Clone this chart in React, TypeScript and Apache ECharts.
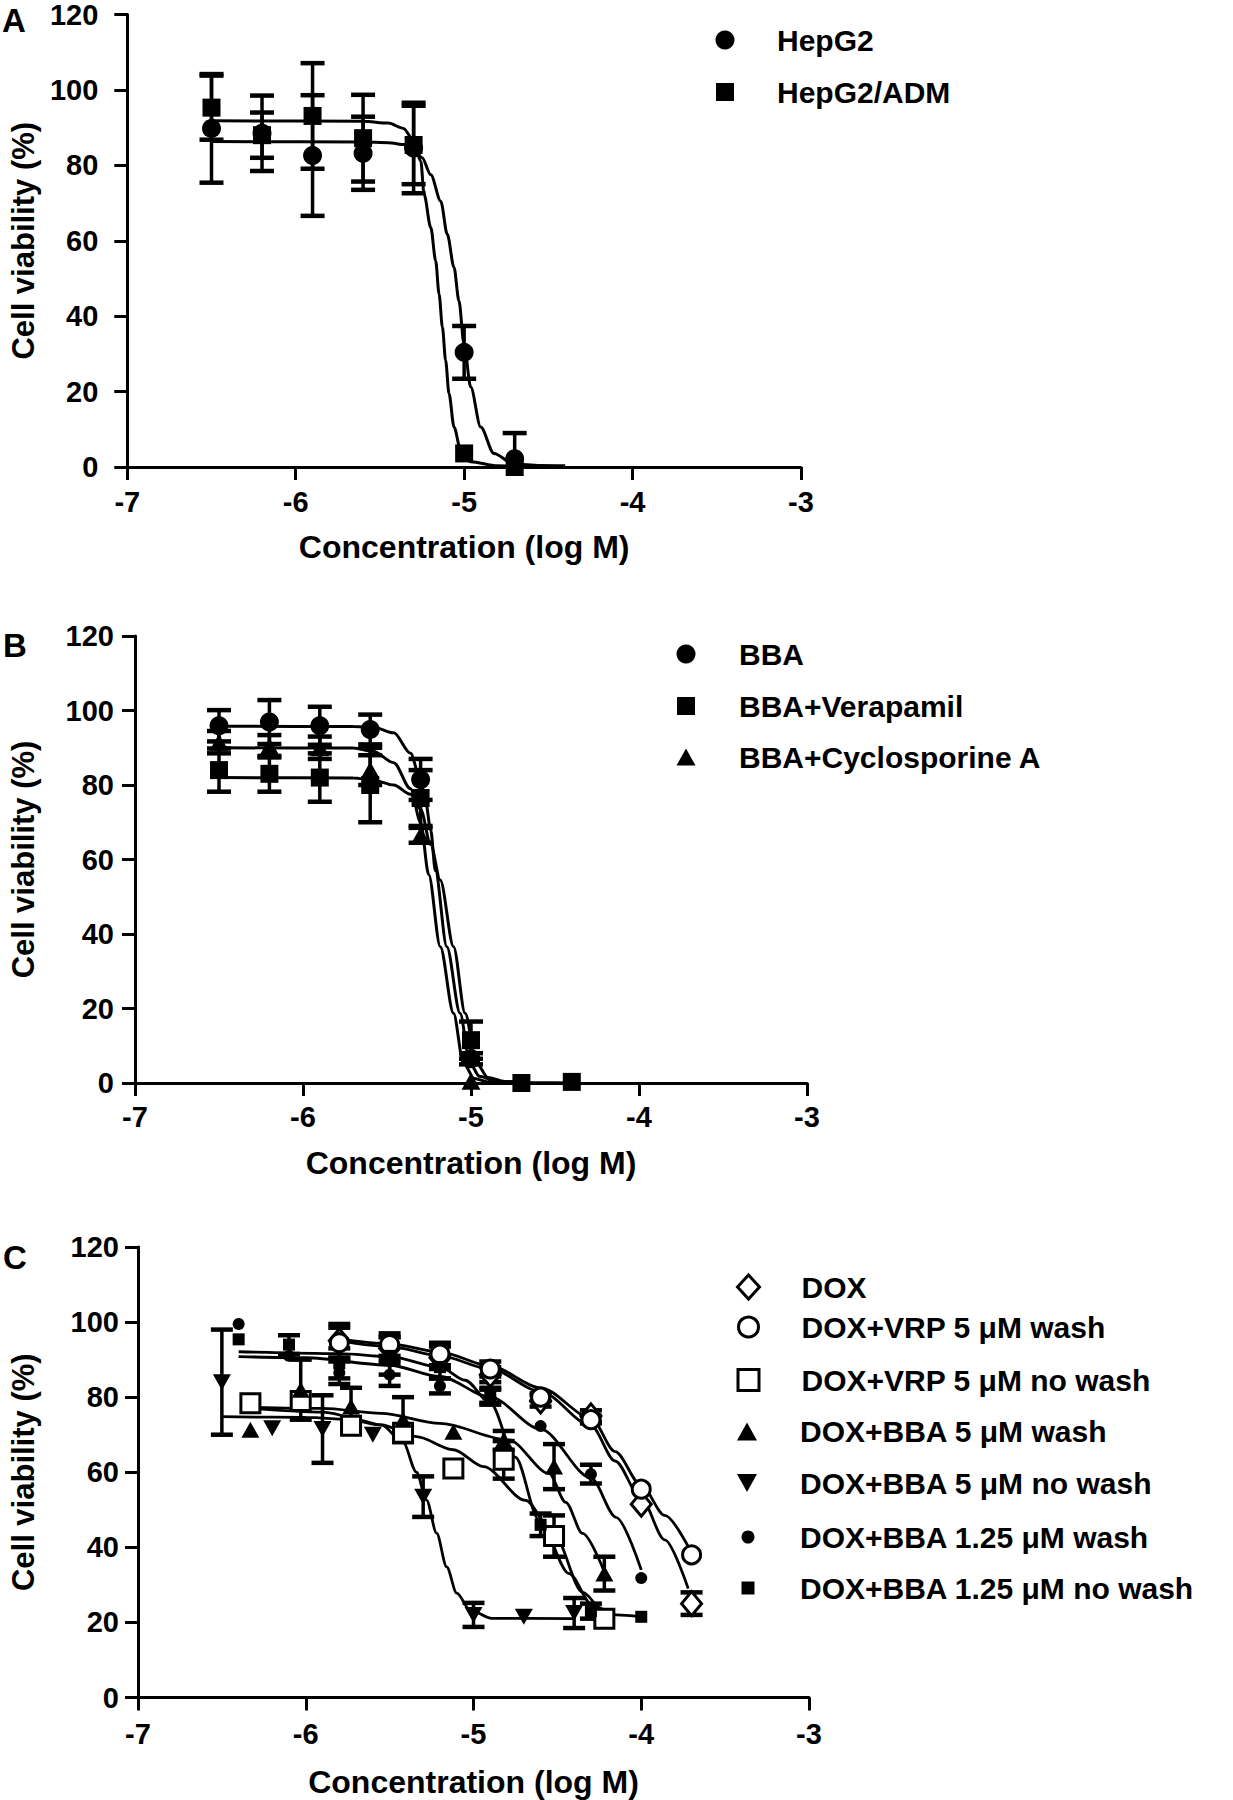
import React, { useEffect, useRef } from "react";
import * as echarts from "echarts";

const FONT = '"Liberation Sans", Arial, Helvetica, sans-serif';

// ---------------- Panel A ----------------
const A_X = [-6.5, -6.2, -5.9, -5.6, -5.3, -5.0, -4.7];
const A_HEPG2 = [89.8, 88.5, 82.6, 83.2, 84.6, 30.4, 2.2];
const A_HEPG2_SD = [14.4, 10, 16, 9.7, 12, 7, 6.8];
const A_ADM = [95.3, 88, 93.1, 87.2, 85.4, 3.6, 0];
const A_ADM_SD = [8.5, 6, 14, 11.5, 10.4, 0, 0];
const A_HEPG2_FIT = [
  [-6.5, 86.3], [-5.6, 86.2], [-5.45, 86], [-5.35, 85.5], [-5.3, 84.5], [-5.25, 82],
  [-5.198, 77.5], [-5.139, 70.5], [-5.1, 61.7], [-5.06, 52.9], [-5.031, 44.1], [-5.001, 32.7],
  [-4.961, 21.2], [-4.902, 10.6], [-4.823, 3.6], [-4.705, 0.8], [-4.55, 0.4], [-4.4, 0.3],
];
const A_ADM_FIT = [
  [-6.5, 91.8], [-5.6, 91.7], [-5.45, 91.2], [-5.36, 89.8], [-5.3, 86.5], [-5.257, 81],
  [-5.238, 72.3], [-5.198, 63.5], [-5.169, 54.7], [-5.149, 45.9], [-5.129, 37.1], [-5.11, 28.3],
  [-5.09, 19.5], [-5.06, 10.6], [-5.021, 4.5], [-4.961, 1.4], [-4.803, 0.3], [-4.7, 0.2],
];

// ---------------- Panel B ----------------
const B_X = [-6.5, -6.2, -5.9, -5.6, -5.3, -5.0, -4.7, -4.4];
const B_BBA = [95.9, 96.9, 95.9, 94.9, 81.5, 6.5];
const B_BBA_SD = [4.2, 5.9, 5.1, 4, 5.5, 1.5];
const B_VER = [84, 83, 82, 80, 76.5, 11.5, 0, 0.3];
const B_VER_SD = [5.8, 4.8, 6.5, 10, 7.5, 5, 0, 0];
const B_CSA = [91.5, 90.4, 90, 84, 66.5, 0.5];
const B_CSA_SD = [3, 3, 3, 4, 2, 0];
const B_BBA_FIT = [
  [-6.5, 95.8], [-5.7, 95.7], [-5.58, 95.5], [-5.46, 94], [-5.36, 88.5], [-5.3, 81.3],
  [-5.27, 75.5], [-5.24, 67.9], [-5.212, 57], [-5.144, 36.6], [-5.065, 18.7], [-5.006, 5.3],
  [-4.95, 1.8], [-4.85, 0.4], [-4.7, 0.1],
];
const B_VER_FIT = [
  [-6.5, 82], [-5.7, 81.9], [-5.58, 81.3], [-5.46, 80], [-5.36, 77.5], [-5.3, 73.5],
  [-5.24, 64], [-5.183, 54.5], [-5.104, 36.6], [-5.035, 18.7], [-4.967, 5.3], [-4.9, 1.5],
  [-4.8, 0.4], [-4.6, 0.05], [-4.4, 0],
];
const B_CSA_FIT = [
  [-6.5, 90], [-5.7, 89.9], [-5.58, 89], [-5.46, 86], [-5.36, 79], [-5.3, 70],
  [-5.252, 56], [-5.183, 36.6], [-5.104, 18.7], [-5.045, 5.3], [-4.98, 1.2], [-4.9, 0.3],
  [-4.7, 0],
];

// ---------------- Panel C ----------------
const C_X_DOX = [-5.8, -5.5, -5.2, -4.9, -4.6, -4.3, -4.0, -3.7];
const C_DOX = [95, 93, 90.5, 86, 79, 75, 51.5, 25];
const C_DOX_SD = [4.5, 3, 3, 2, 1.5, 1.5, 0, 3];
const C_VRPW = [94.5, 94, 91.5, 87.5, 80, 74, 55.5, 38];
const C_VRPW_SD = [4, 3, 3, 2, 1, 1, 0, 0];
const C_X_VRP = [-6.33, -6.03, -5.73, -5.42, -5.12, -4.82, -4.52, -4.22];
const C_VRPN = [78.4, 79, 72.4, 70.5, 61, 63.3, 43, 21];
const C_VRPN_SD = [0, 0, 0, 0, 0, 5, 5.5, 0];
const C_BBA5W = [71.3, 82, 77.5, 74, 70.8, 68.5, 61.5, 33];
const C_BBA5W_SD = [0, 8, 5, 6, 0, 2.5, 6, 4.5];
const C_X_BBA5N = [-6.5, -6.2, -5.9, -5.6, -5.3, -5.0, -4.7, -4.4];
const C_BBA5N = [84, 71.7, 71.5, 70, 53.5, 22, 21.5, 22.5];
const C_BBA5N_SD = [14, 0, 9, 0, 5.4, 3.2, 0, 4];
const C_X_BBA125 = [-6.4, -6.1, -5.8, -5.5, -5.2, -4.9, -4.6, -4.3, -4.0];
const C_BBA125W = [99.5, 91, 86.5, 86, 83, 80, 72.3, 59.5, 31.8];
const C_BBA125W_SD = [0, 0, 3, 3, 2, 2, 0, 2.5, 0];
const C_BBA125N = [95.4, 94, 89, 91, 88, 80.5, 46, 23, 21.5];
const C_BBA125N_SD = [0, 2.5, 4, 5, 3, 2, 3, 2, 0];

const C_DOX_FIT = [
  [-5.8, 95], [-5.5, 93.5], [-5.2, 91], [-4.9, 87.5], [-4.6, 81.5], [-4.3, 72.5],
  [-4.156, 63], [-4.0, 53], [-3.86, 42], [-3.72, 29],
];
const C_VRPW_FIT = [
  [-5.8, 95.5], [-5.5, 94.2], [-5.2, 92], [-4.9, 88.3], [-4.6, 82.5], [-4.3, 74.5],
  [-4.156, 65.5], [-4.0, 56.5], [-3.86, 48.5], [-3.7, 38.5],
];
const C_VRPN_FIT = [
  [-6.33, 77], [-5.9, 76], [-5.55, 72.6], [-5.34, 69.5], [-5.12, 66], [-4.94, 61.5],
  [-4.69, 52.5], [-4.52, 43.5], [-4.35, 28], [-4.22, 21],
];
const C_BBA5W_FIT = [
  [-6.33, 77.3], [-5.9, 77], [-5.55, 75.7], [-5.2, 73], [-4.79, 68.6], [-4.55, 59.7],
  [-4.45, 52], [-4.35, 43.7], [-4.22, 33.5],
];
const C_BBA5N_FIT = [
  [-6.5, 74.8], [-6.0, 74.6], [-5.7, 74], [-5.55, 72.6], [-5.42, 68], [-5.34, 60],
  [-5.28, 52.6], [-5.22, 43.8], [-5.16, 34.8], [-5.1, 27.8], [-5.02, 23.3], [-4.89, 21.1],
  [-4.4, 21],
];
const C_BBA125W_FIT = [
  [-6.4, 90.8], [-6.0, 90.5], [-5.5, 88.5], [-5.2, 85.5], [-4.9, 80], [-4.6, 71.5],
  [-4.3, 58.5], [-4.15, 48], [-4.0, 34],
];
const C_BBA125N_FIT = [
  [-6.4, 92.1], [-5.8, 91.6], [-5.5, 90.8], [-5.2, 88], [-5.05, 84.5], [-4.9, 78.5],
  [-4.75, 64], [-4.61, 47.3], [-4.43, 33], [-4.29, 24.5], [-4.15, 22], [-4.0, 21.5],
];

const X_TICKS = { min: -7, max: -3, interval: 1 };
const Y_TICKS = { min: 0, max: 120, interval: 20 };
const X_NAME = "Concentration (log M)";
const Y_NAME = "Cell viability (%)";

const DOWN_TRI = "path://M0,0L10,0L5,9Z";

const pts = (xs: number[], ys: number[]) => ys.map((y, i) => [xs[i], y]);
const errs = (xs: number[], ys: number[], sds: number[]) =>
  ys
    .map((y, i) => (sds[i] > 0 ? [xs[i], y - sds[i], y + sds[i]] : null))
    .filter((d) => d !== null) as number[][];

function scatter(name: string, g: number, data: number[][], symbol: string, size: any, hollow = false) {
  return {
    type: "scatter",
    name,
    xAxisIndex: g,
    yAxisIndex: g,
    data,
    symbol,
    symbolSize: size,
    itemStyle: hollow
      ? { color: "#fff", borderColor: "#000", borderWidth: 3, opacity: 1 }
      : { color: "#000", opacity: 1 },
    z: 5,
    silent: true,
  };
}

function fit(name: string, g: number, data: number[][], width = 3) {
  return {
    type: "line",
    name,
    xAxisIndex: g,
    yAxisIndex: g,
    data,
    showSymbol: false,
    symbol: "none",
    smooth: 0.3,
    smoothMonotone: "x",
    lineStyle: { color: "#000", width },
    z: 3,
    silent: true,
  };
}

function errBar(name: string, g: number, data: number[][], hw = 12) {
  return {
    type: "custom",
    name,
    xAxisIndex: g,
    yAxisIndex: g,
    data,
    encode: { x: 0, y: [1, 2] },
    z: 4,
    silent: true,
    renderItem: (params: any, api: any) => {
      const x = api.value(0);
      const lo = api.coord([x, api.value(1)]);
      const hi = api.coord([x, api.value(2)]);
      const cs = params.coordSys;
      const top = Math.max(hi[1], cs.y);
      const bot = Math.min(lo[1], cs.y + cs.height);
      const st = { stroke: "#000", lineWidth: 3.5 };
      const ch: any[] = [
        { type: "line", shape: { x1: lo[0], y1: top, x2: lo[0], y2: bot }, style: st },
      ];
      if (hi[1] >= cs.y) ch.push({ type: "line", shape: { x1: lo[0] - hw, y1: hi[1], x2: lo[0] + hw, y2: hi[1] }, style: { stroke: "#000", lineWidth: 4.5 } });
      if (lo[1] <= cs.y + cs.height) ch.push({ type: "line", shape: { x1: lo[0] - hw, y1: lo[1], x2: lo[0] + hw, y2: lo[1] }, style: { stroke: "#000", lineWidth: 4.5 } });
      return { type: "group", children: ch };
    },
  };
}

// layout (pixels)
const GRIDS = [
  { left: 126, top: 12.5, width: 675, height: 454.5, yMargin: 29, xMargin: 20, xNameGap: 64, yNameGap: 88 },
  { left: 128.5, top: 636, width: 678.5, height: 447, yMargin: 21, xMargin: 19, xNameGap: 64, yNameGap: 96 },
  { left: 132, top: 1247, width: 677, height: 450.5, yMargin: 19, xMargin: 22, xNameGap: 68, yNameGap: 99 },
];

const LEGEND_ITEMS = [
  { name: "HepG2", cx: 725, cy: 40, w: 19, h: 19, tx: 777 },
  { name: "HepG2/ADM", cx: 725, cy: 92, w: 18, h: 18, tx: 777 },
  { name: "BBA", cx: 686, cy: 654, w: 19, h: 19, tx: 739 },
  { name: "BBA+Verapamil", cx: 686, cy: 706, w: 18, h: 18, tx: 739 },
  { name: "BBA+Cyclosporine A", cx: 686, cy: 757, w: 19, h: 17, tx: 739 },
  { name: "DOX", cx: 747, cy: 1287, w: 22, h: 24, tx: 800, hollow: true },
  { name: "DOX+VRP 5 μM wash", cx: 747, cy: 1327, w: 20, h: 20, tx: 800, hollow: true },
  { name: "DOX+VRP 5 μM no wash", cx: 747, cy: 1380, w: 21, h: 21, tx: 800, hollow: true },
  { name: "DOX+BBA 5 μM wash", cx: 747, cy: 1431.5, w: 20, h: 18, tx: 800 },
  { name: "DOX+BBA 5 μM no wash", cx: 747, cy: 1483, w: 20, h: 18, tx: 800 },
  { name: "DOX+BBA 1.25 μM wash", cx: 748, cy: 1537, w: 13, h: 13, tx: 800 },
  { name: "DOX+BBA 1.25 μM no wash", cx: 748, cy: 1588, w: 13, h: 13, tx: 800 },
];

const PANEL_LETTERS = [
  { t: "A", x: 2, y: 20.5 },
  { t: "B", x: 3, y: 645 },
  { t: "C", x: 3, y: 1257 },
];

function buildOption() {
  const grid = GRIDS.map((g) => ({ left: g.left, top: g.top, width: g.width, height: g.height, containLabel: false }));
  const lineSt = { color: "#000", width: 3 };
  const xAxis = GRIDS.map((g, i) => ({
    type: "value",
    gridIndex: i,
    ...X_TICKS,
    axisLine: { show: true, onZero: false, lineStyle: lineSt },
    axisTick: { show: true, length: 13, inside: false, lineStyle: lineSt },
    axisLabel: { fontFamily: FONT, fontSize: 29, fontWeight: "bold", color: "#000", margin: g.xMargin },
    splitLine: { show: false },
    name: X_NAME,
    nameLocation: "middle",
    nameGap: g.xNameGap,
    nameTextStyle: { fontFamily: FONT, fontSize: 32, fontWeight: "bold", color: "#000" },
  }));
  const yAxis = GRIDS.map((g, i) => ({
    type: "value",
    gridIndex: i,
    ...Y_TICKS,
    axisLine: { show: true, onZero: false, lineStyle: lineSt },
    axisTick: { show: true, length: 13, inside: false, lineStyle: lineSt },
    axisLabel: { fontFamily: FONT, fontSize: 29, fontWeight: "bold", color: "#000", margin: g.yMargin },
    splitLine: { show: false },
    name: Y_NAME,
    nameLocation: "middle",
    nameGap: g.yNameGap,
    nameTextStyle: { fontFamily: FONT, fontSize: 31, fontWeight: "bold", color: "#000" },
  }));

  const series: any[] = [
    // A
    fit("HepG2 fit", 0, A_HEPG2_FIT),
    fit("HepG2/ADM fit", 0, A_ADM_FIT),
    errBar("HepG2 err", 0, errs(A_X, A_HEPG2, A_HEPG2_SD)),
    errBar("HepG2/ADM err", 0, errs(A_X, A_ADM, A_ADM_SD)),
    scatter("HepG2", 0, pts(A_X, A_HEPG2), "circle", 19),
    scatter("HepG2/ADM", 0, pts(A_X, A_ADM), "rect", 18),
    // B
    fit("BBA fit", 1, B_BBA_FIT),
    fit("BBA+Verapamil fit", 1, B_VER_FIT),
    fit("BBA+Cyclosporine A fit", 1, B_CSA_FIT),
    errBar("BBA err", 1, errs(B_X, B_BBA, B_BBA_SD)),
    errBar("BBA+Verapamil err", 1, errs(B_X, B_VER, B_VER_SD)),
    errBar("BBA+Cyclosporine A err", 1, errs(B_X, B_CSA, B_CSA_SD)),
    scatter("BBA", 1, pts(B_X, B_BBA), "circle", 19),
    scatter("BBA+Verapamil", 1, pts(B_X, B_VER), "rect", 18),
    scatter("BBA+Cyclosporine A", 1, pts(B_X, B_CSA), "triangle", [19, 17]),
    // C
    fit("DOX fit", 2, C_DOX_FIT, 2.8),
    fit("DOX+VRP 5 μM wash fit", 2, C_VRPW_FIT, 2.8),
    fit("DOX+VRP 5 μM no wash fit", 2, C_VRPN_FIT, 2.8),
    fit("DOX+BBA 5 μM wash fit", 2, C_BBA5W_FIT, 2.8),
    fit("DOX+BBA 5 μM no wash fit", 2, C_BBA5N_FIT, 2.8),
    fit("DOX+BBA 1.25 μM wash fit", 2, C_BBA125W_FIT, 2.8),
    fit("DOX+BBA 1.25 μM no wash fit", 2, C_BBA125N_FIT, 2.8),
    errBar("DOX err", 2, errs(C_X_DOX, C_DOX, C_DOX_SD), 11),
    errBar("DOX+VRP 5 μM wash err", 2, errs(C_X_DOX, C_VRPW, C_VRPW_SD), 11),
    errBar("DOX+VRP 5 μM no wash err", 2, errs(C_X_VRP, C_VRPN, C_VRPN_SD), 11),
    errBar("DOX+BBA 5 μM wash err", 2, errs(C_X_VRP, C_BBA5W, C_BBA5W_SD), 11),
    errBar("DOX+BBA 5 μM no wash err", 2, errs(C_X_BBA5N, C_BBA5N, C_BBA5N_SD), 11),
    errBar("DOX+BBA 1.25 μM wash err", 2, errs(C_X_BBA125, C_BBA125W, C_BBA125W_SD), 11),
    errBar("DOX+BBA 1.25 μM no wash err", 2, errs(C_X_BBA125, C_BBA125N, C_BBA125N_SD), 11),
    scatter("DOX", 2, pts(C_X_DOX, C_DOX), "diamond", [20, 24], true),
    scatter("DOX+VRP 5 μM wash", 2, pts(C_X_DOX, C_VRPW), "circle", 18, true),
    scatter("DOX+VRP 5 μM no wash", 2, pts(C_X_VRP, C_VRPN), "rect", 19, true),
    scatter("DOX+BBA 5 μM wash", 2, pts(C_X_VRP, C_BBA5W), "triangle", [18, 16]),
    scatter("DOX+BBA 5 μM no wash", 2, pts(C_X_BBA5N, C_BBA5N), DOWN_TRI, [18, 16]),
    scatter("DOX+BBA 1.25 μM wash", 2, pts(C_X_BBA125, C_BBA125W), "circle", 12),
    scatter("DOX+BBA 1.25 μM no wash", 2, pts(C_X_BBA125, C_BBA125N), "rect", 12),
  ];

  const legend = LEGEND_ITEMS.map((it: any) => ({
    data: [it.name],
    orient: "vertical",
    padding: 0,
    left: it.cx - it.w / 2,
    top: it.cy - 15,
    itemWidth: it.w,
    itemHeight: it.h,
    selectedMode: false,
    itemStyle: it.hollow
      ? { color: "#fff", borderColor: "#000", borderWidth: 3 }
      : { color: "#000", borderWidth: 0 },
    textStyle: {
      fontFamily: FONT,
      fontSize: 30,
      fontWeight: "bold",
      color: "#000",
      padding: [0, 0, 0, it.tx - (it.cx + it.w / 2) - 5],
    },
  }));

  const graphic = PANEL_LETTERS.map((p) => ({
    type: "text",
    x: p.x,
    y: p.y,
    style: { text: p.t, font: `bold 33px ${FONT}`, fill: "#000", textVerticalAlign: "middle", verticalAlign: "middle" },
  }));

  return {
    animation: false,
    backgroundColor: "#fff",
    grid,
    xAxis,
    yAxis,
    legend,
    graphic,
    series,
  };
}

export default function App() {
  const ref = useRef<HTMLDivElement>(null);
  useEffect(() => {
    if (!ref.current) return;
    const chart = echarts.init(ref.current, undefined, { renderer: "svg" });
    chart.setOption(buildOption() as any);
    return () => chart.dispose();
  }, []);
  return (
    <div
      ref={ref}
      style={{ position: "absolute", left: 0, top: 0, width: 1233, height: 1800, background: "#fff" }}
    />
  );
}
